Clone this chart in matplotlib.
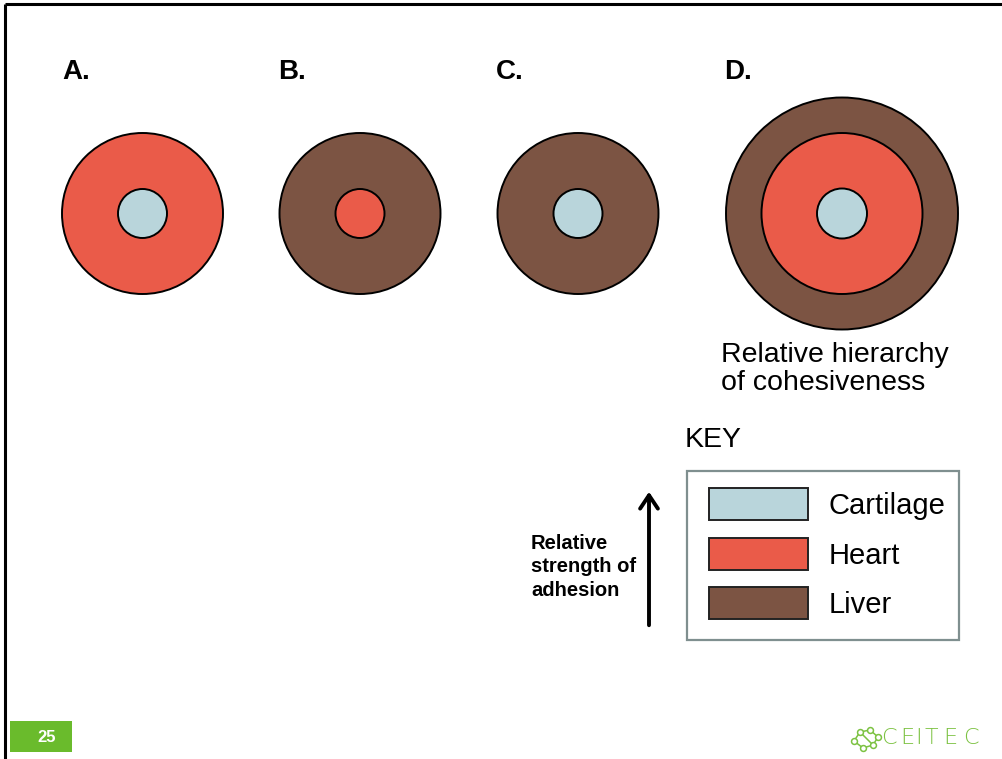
import numpy as np
import matplotlib.pyplot as plt
from matplotlib.patches import Circle, Rectangle, FancyArrowPatch

plt.rcParams['font.family'] = ['Liberation Sans', 'DejaVu Sans']

# tissues and their colours
tissues = ['Cartilage', 'Heart', 'Liver']
tissue_colors = {'Cartilage': '#b9d5db', 'Heart': '#ea5b49', 'Liver': '#7c5443'}

# sorting outcomes, outer layer first
panel_labels = ['A.', 'B.', 'C.', 'D.']
panel_layers = [['Heart', 'Cartilage'],
                ['Liver', 'Heart'],
                ['Liver', 'Cartilage'],
                ['Liver', 'Heart', 'Cartilage']]

W, H = 1003, 759
fig = plt.figure(figsize=(W / 100, H / 100), dpi=100)
ax = fig.add_axes([0, 0, 1, 1])
ax.set_xlim(0, W)
ax.set_ylim(H, 0)
ax.set_aspect('equal')
ax.axis('off')

# slide frame
ax.plot([5, W], [4, 4], color='black', lw=2.2, solid_capstyle='butt')
ax.plot([5, 5], [4, H], color='black', lw=2.2, solid_capstyle='butt')

# circle layout
centers_x = [142.5, 360, 578, 842]
cy = 213.5
label_x = [62, 278, 496, 724]
radii = {2: [80.5, 24.5], 3: [116, 80.5, 25]}

for lab, layers, cx, lx in zip(panel_labels, panel_layers, centers_x, label_x):
    ax.text(lx, 72, lab, fontsize=20, fontweight='bold', ha='left', va='center')
    rs = radii[len(layers)]
    for t, r in zip(layers, rs):
        ax.add_patch(Circle((cx, cy), r, facecolor=tissue_colors[t],
                            edgecolor='black', lw=1.4, zorder=2))

ax.text(721, 369, 'Relative hierarchy\nof cohesiveness', fontsize=20.5,
        ha='left', va='center', linespacing=1.13)
ax.text(685, 440, 'KEY', fontsize=20.5, ha='left', va='center')

# key box
ax.add_patch(Rectangle((687.5, 470.5), 272, 169, facecolor='white',
                       edgecolor='#7f8f8f', lw=1.6))
for i, t in enumerate(tissues):
    y = 488 + i * 49.5
    ax.add_patch(Rectangle((709, y), 99, 32, facecolor=tissue_colors[t],
                           edgecolor='#222222', lw=1.4, zorder=3))
    ax.text(829, y + 18, t, fontsize=21, ha='left', va='center')

# adhesion arrow
ax.add_patch(FancyArrowPatch((649, 628), (649, 489), arrowstyle='->,head_length=6,head_width=4',
                             color='black', lw=2.8, mutation_scale=1.6))
ax.text(531, 567, 'Relative\nstrength of\nadhesion', fontsize=14.5, fontweight='bold',
        ha='left', va='center', linespacing=1.32)

# slide number
ax.add_patch(Rectangle((10, 721), 62, 31, facecolor='#6abb2c', edgecolor='none'))
ax.text(47, 738, '25', fontsize=12, fontweight='bold', color='white',
        ha='center', va='center')

# CEITEC logo
green = '#7cc242'
nodes = np.array([[854, 741], [860, 732], [870, 730], [878, 737], [873, 745], [863, 748]])
ring = np.vstack([nodes, nodes[:1]])
ax.plot(ring[:, 0], ring[:, 1], color=green, lw=1.1)
ax.plot([860, 873], [732, 745], color=green, lw=1.1)
ax.scatter(nodes[:, 0], nodes[:, 1], s=18, facecolor='white', edgecolor=green, lw=1.1, zorder=4)
for ch, x in zip('CEITEC', [889, 907, 919, 931, 950, 971]):
    ax.text(x, 738.5, ch, fontsize=16, color=green, ha='center', va='center',
            family=['DejaVu Sans'], fontweight='light')

fig.savefig('out.png', dpi=100)
